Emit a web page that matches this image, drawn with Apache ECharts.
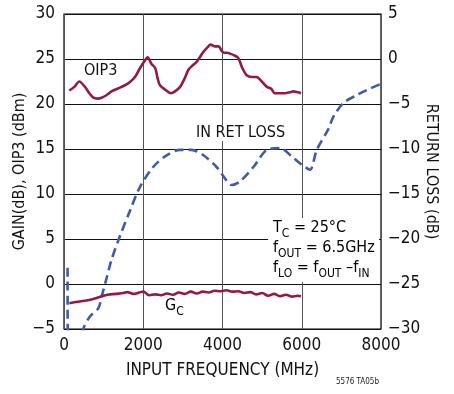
<!DOCTYPE html>
<html><head><meta charset="utf-8">
<script src="https://cdn.jsdelivr.net/npm/echarts@6/dist/echarts.min.js"></script>
<style>html,body{margin:0;padding:0;background:#fff}#c{width:454px;height:394px}</style>
</head><body><div id="c"></div>
<script>
// ---- data ----
const xTicks = [0, 2000, 4000, 6000, 8000];
const leftTicks = [-5, 0, 5, 10, 15, 20, 25, 30];
const rightTicks = [-30, -25, -20, -15, -10, -5, 0, 5];

const oip3Freq = [134, 260, 386, 530, 640, 740, 850, 950, 1080, 1200, 1350, 1500, 1650, 1790, 1920, 2020, 2110, 2200, 2300, 2360, 2420, 2550, 2700, 2800, 2930, 3040, 3140, 3250, 3350, 3520, 3620, 3700, 3800, 3900, 3980, 4040, 4120, 4190, 4300, 4400, 4500, 4610, 4740, 4860, 4990, 5120, 5230, 5320, 5450, 5580, 5700, 5790, 5900, 5980];
const oip3Val  = [21.5, 21.9, 22.5, 21.9, 21.2, 20.7, 20.6, 20.7, 21.0, 21.4, 21.7, 22.0, 22.4, 23.0, 24.0, 24.7, 25.2, 24.5, 24.0, 22.9, 22.1, 21.6, 21.2, 21.4, 21.9, 22.8, 23.8, 24.3, 24.7, 25.8, 26.3, 26.6, 26.4, 26.4, 25.9, 25.7, 25.7, 25.6, 25.4, 25.1, 24.0, 23.2, 23.0, 23.0, 22.5, 21.9, 21.7, 21.2, 21.2, 21.2, 21.3, 21.4, 21.3, 21.2];

const gainFreq = [134, 300, 600, 900, 1100, 1300, 1500, 1600, 1750, 1900, 2000, 2150, 2300, 2450, 2600, 2750, 2900, 3050, 3200, 3350, 3500, 3650, 3800, 3950, 4100, 4250, 4400, 4550, 4700, 4850, 5000, 5150, 5300, 5450, 5600, 5750, 5900, 5980];
const gainVal  = [-2.15, -2.0, -1.8, -1.45, -1.2, -1.1, -1.0, -0.9, -1.1, -0.95, -0.85, -1.25, -1.15, -1.25, -1.05, -1.2, -0.95, -1.1, -0.85, -1.05, -0.85, -0.95, -0.75, -0.8, -0.7, -0.85, -0.8, -1.0, -0.9, -1.15, -1.0, -1.3, -1.1, -1.35, -1.2, -1.4, -1.3, -1.35];

const rlFreq = [90, 96, 140, 420, 490, 656, 866, 950, 1060, 1200, 1410, 1670, 1920, 2250, 2590, 2930, 3220, 3520, 3850, 4100, 4230, 4440, 4780, 5120, 5450, 5790, 6080, 6210, 6380, 6670, 6800, 7050, 7390, 7720, 7980];
const rlVal  = [-23.2, -32, -40, -34, -30, -28.6, -27.7, -26.4, -24.6, -22.3, -19.7, -16.8, -14.2, -12.0, -10.7, -10.1, -10.1, -10.7, -12.0, -13.5, -14.0, -13.6, -12.0, -10.1, -9.9, -11.0, -12.0, -12.3, -10.1, -7.8, -6.4, -4.9, -4.0, -3.3, -2.8];

const zip = (a, b) => a.map((v, i) => [v, b[i]]);
const FONT = '"DejaVu Sans Condensed", "Liberation Sans", sans-serif';
const minus = v => String(v).replace('-', '\u2212');
const RED = '#941b40', BLUE = '#3e5ca8';

const chart = echarts.init(document.getElementById('c'), null, {renderer: 'canvas'});
const subRich = {
  n: {fontSize: 16, fontFamily: FONT, color: '#111', lineHeight: 20, verticalAlign: 'middle'},
  s: {fontSize: 12, fontFamily: FONT, color: '#111', lineHeight: 12, verticalAlign: 'bottom', padding: [0, 0, -2, 0]}
};
chart.setOption({
  animation: false,
  grid: {left: 64, right: 73, top: 14, bottom: 65, show: true, borderColor: '#000', borderWidth: 1.2,
         containLabel: false, outerBoundsMode: 'none'},
  xAxis: {
    type: 'value', min: xTicks[0], max: xTicks[xTicks.length - 1], interval: 2000,
    name: 'INPUT FREQUENCY (MHz)', nameLocation: 'middle', nameGap: 33,
    nameTextStyle: {fontFamily: FONT, fontSize: 17, color: '#111'},
    axisLine: {show: false}, axisTick: {show: false},
    axisLabel: {fontFamily: FONT, fontSize: 17, color: '#111', margin: 8, formatter: v => String(v)},
    splitLine: {show: true, lineStyle: {color: '#555', width: 1}}
  },
  yAxis: [{
    type: 'value', min: leftTicks[0], max: leftTicks[leftTicks.length - 1], interval: 5,
    name: 'GAIN(dB), OIP3 (dBm)', nameLocation: 'middle', nameGap: 36, nameRotate: 90, nameMoveOverlap: false,
    nameTextStyle: {fontFamily: FONT, fontSize: 16, color: '#111'},
    axisLine: {show: false}, axisTick: {show: false},
    axisLabel: {fontFamily: FONT, fontSize: 17, color: '#111', margin: 9, formatter: minus},
    splitLine: {show: true, lineStyle: {color: '#111', width: 1}}
  }, {
    type: 'value', min: rightTicks[0], max: rightTicks[rightTicks.length - 1], interval: 5,
    name: 'RETURN LOSS (dB)', nameLocation: 'middle', nameGap: 42, nameRotate: -90, nameMoveOverlap: false,
    nameTextStyle: {fontFamily: FONT, fontSize: 16, color: '#111'},
    axisLine: {show: false}, axisTick: {show: false},
    axisLabel: {fontFamily: FONT, fontSize: 17, color: '#111', margin: 7, formatter: minus},
    splitLine: {show: false}
  }],
  series: [{
    type: 'line', name: 'OIP3', data: zip(oip3Freq, oip3Val), yAxisIndex: 0,
    showSymbol: false, smooth: 0.3, lineStyle: {color: RED, width: 2.6}, z: 3
  }, {
    type: 'line', name: 'GC', data: zip(gainFreq, gainVal), yAxisIndex: 0,
    showSymbol: false, smooth: 0.4, lineStyle: {color: RED, width: 2.6}, z: 3
  }, {
    type: 'line', name: 'IN RET LOSS', data: zip(rlFreq, rlVal), yAxisIndex: 1, clip: true,
    showSymbol: false, smooth: 0.3, lineStyle: {color: BLUE, width: 2.6, type: [9, 5]}, z: 2
  }],
  graphic: [
    {type: 'rect', shape: {x: 268, y: 218, width: 111, height: 64}, style: {fill: '#fff'}, z: 10},
    {type: 'text', left: 273, top: 220, z: 11, style: {text: '{n|T}{s|C}{n| = 25°C}', rich: subRich}},
    {type: 'text', left: 273, top: 240, z: 11, style: {text: '{n|f}{s|OUT}{n| = 6.5GHz}', rich: subRich}},
    {type: 'text', left: 273, top: 260, z: 11, style: {text: '{n|f}{s|LO}{n| = f}{s|OUT}{n| \u2013f}{s|IN}', rich: subRich}},
    {type: 'text', left: 84, top: 63, z: 11, style: {text: 'OIP3', font: '16px ' + FONT, fill: '#111', backgroundColor: '#fff'}},
    {type: 'text', left: 196, top: 125, z: 11, style: {text: 'IN RET LOSS', font: '16px ' + FONT, fill: '#111', backgroundColor: '#fff'}},
    {type: 'text', left: 165, top: 298, z: 11, style: {text: '{n|G}{s|C}', rich: subRich}},
    {type: 'text', left: 336, top: 378, z: 11, style: {text: '5576 TA05b', font: '8px ' + FONT, fill: '#222'}}
  ]
});
</script></body></html>
